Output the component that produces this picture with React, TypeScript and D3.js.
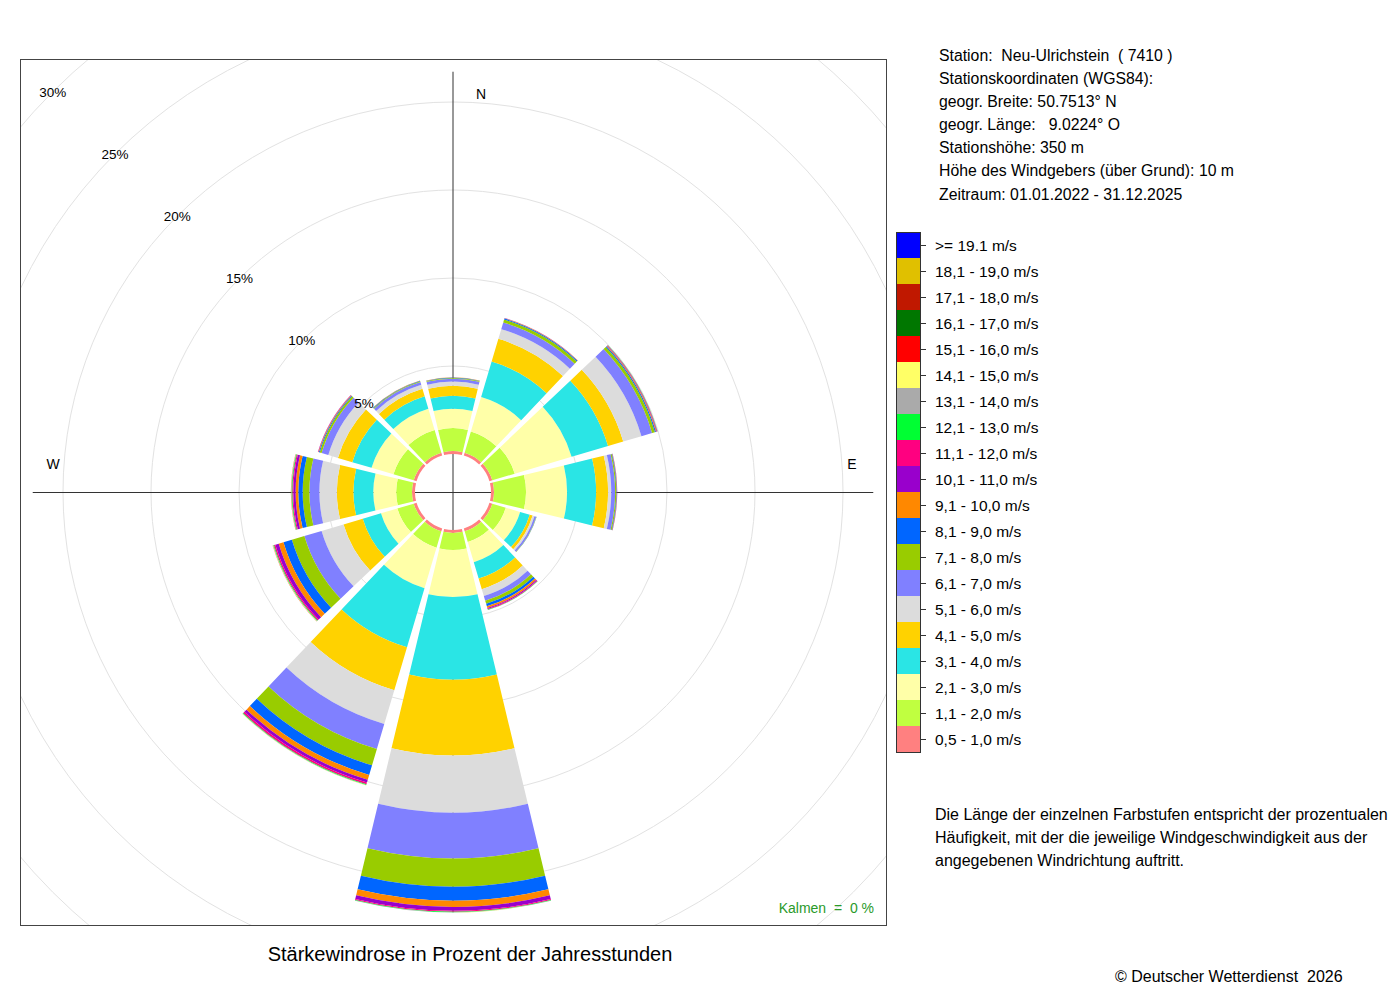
import { useEffect, useRef } from 'react';
import * as d3 from 'd3';

// wind directions (degrees, clockwise from north)
const directions = [0, 30, 60, 90, 120, 150, 180, 210, 240, 270, 300, 330];

const speedLabels = [
  '0,5 - 1,0 m/s', '1,1 - 2,0 m/s', '2,1 - 3,0 m/s', '3,1 - 4,0 m/s', '4,1 - 5,0 m/s',
  '5,1 - 6,0 m/s', '6,1 - 7,0 m/s', '7,1 - 8,0 m/s', '8,1 - 9,0 m/s', '9,1 - 10,0 m/s',
  '10,1 - 11,0 m/s', '11,1 - 12,0 m/s', '12,1 - 13,0 m/s', '13,1 - 14,0 m/s', '14,1 - 15,0 m/s',
  '15,1 - 16,0 m/s', '16,1 - 17,0 m/s', '17,1 - 18,0 m/s', '18,1 - 19,0 m/s', '>= 19.1 m/s',
];

const speedColors = [
  '#ff8080', '#c0ff40', '#ffffa8', '#2ae5e5', '#ffd200',
  '#dcdcdc', '#8080ff', '#99cc00', '#0066ff', '#ff8800',
  '#9900cc', '#ff0080', '#00ff33', '#aaaaaa', '#ffff66',
  '#ff0000', '#007700', '#c01800', '#e0c000', '#0000ff',
];

// percent of hours per speed class, one array per direction
const freq000 = [0.17, 1.3, 1.1, 0.74, 0.57, 0.23, 0.17, 0.04, 0.02, 0.02, 0, 0, 0, 0, 0, 0, 0, 0, 0, 0];
const freq030 = [0.17, 1.25, 2.05, 2.1, 1.35, 0.57, 0.4, 0.17, 0.06, 0.02, 0.01, 0, 0, 0, 0, 0, 0, 0, 0, 0];
const freq060 = [0.17, 1.33, 3.37, 2.16, 0.9, 1.08, 0.63, 0.17, 0.06, 0.04, 0.03, 0.02, 0.01, 0, 0, 0, 0, 0, 0, 0];
const freq090 = [0.17, 1.82, 2.33, 1.65, 0.68, 0.18, 0.22, 0.06, 0.03, 0.02, 0.01, 0, 0, 0, 0, 0, 0, 0, 0, 0];
const freq120 = [0.17, 0.8, 0.85, 0.57, 0.17, 0.11, 0.1, 0.02, 0.01, 0, 0, 0, 0, 0, 0, 0, 0, 0, 0, 0];
const freq150 = [0.17, 0.63, 1.2, 0.97, 0.63, 0.4, 0.28, 0.19, 0.14, 0.1, 0.06, 0.04, 0.02, 0.01, 0, 0, 0, 0, 0, 0];
const freq180 = [0.17, 0.97, 2.67, 4.7, 4.3, 3.25, 2.6, 1.6, 0.8, 0.35, 0.22, 0.05, 0.03, 0.01, 0.01, 0, 0, 0, 0, 0];
const freq210 = [0.17, 0.97, 2.4, 3.5, 2.55, 2.0, 1.48, 0.97, 0.57, 0.28, 0.17, 0.1, 0.04, 0.02, 0.01, 0, 0, 0, 0, 0];
const freq240 = [0.17, 0.97, 0.97, 1.08, 1.14, 1.3, 1.02, 0.74, 0.5, 0.28, 0.2, 0.08, 0.04, 0.02, 0.01, 0.01, 0, 0, 0, 0];
const freq270 = [0.17, 0.9, 1.3, 1.13, 0.94, 0.99, 0.57, 0.38, 0.25, 0.15, 0.13, 0.06, 0.04, 0.02, 0.01, 0.01, 0, 0, 0, 0];
const freq300 = [0.17, 1.2, 1.3, 1.14, 0.85, 0.57, 0.4, 0.11, 0.05, 0.03, 0.02, 0.01, 0, 0, 0, 0, 0, 0, 0, 0];
const freq330 = [0.17, 1.35, 1.25, 0.74, 0.45, 0.23, 0.17, 0.05, 0.03, 0.01, 0, 0, 0, 0, 0, 0, 0, 0, 0, 0];
const rose = [freq000, freq030, freq060, freq090, freq120, freq150, freq180, freq210, freq240, freq270, freq300, freq330];

const pctTicks = [5, 10, 15, 20, 25, 30];

const stationInfo = [
  'Station:  Neu-Ulrichstein  ( 7410 )',
  'Stationskoordinaten (WGS84):',
  'geogr. Breite: 50.7513° N',
  'geogr. Länge:   9.0224° O',
  'Stationshöhe: 350 m',
  'Höhe des Windgebers (über Grund): 10 m',
  'Zeitraum: 01.01.2022 - 31.12.2025',
];

const noteLines = [
  'Die Länge der einzelnen Farbstufen entspricht der prozentualen',
  'Häufigkeit, mit der die jeweilige Windgeschwindigkeit aus der',
  'angegebenen Windrichtung auftritt.',
];

const FONT = '"Liberation Sans", Arial, Helvetica, sans-serif';

export default function App() {
  const svgRef = useRef<SVGSVGElement>(null);

  useEffect(() => {
    if (!svgRef.current) return;
    const svg = d3.select(svgRef.current);
    svg.selectAll('*').remove();

    const box = { x: 20, y: 59, w: 866, h: 866 };
    const cx = box.x + box.w / 2;
    const cy = box.y + box.h / 2;
    const halfW = 13.5;   // half sector width in degrees
    const rad = Math.PI / 180;

    const r = d3.scaleLinear().domain([0, 30]).range([38, 566]);

    svg.append('defs').append('clipPath').attr('id', 'plotclip')
      .append('rect').attr('x', box.x).attr('y', box.y).attr('width', box.w).attr('height', box.h);

    const plot = svg.append('g').attr('clip-path', 'url(#plotclip)');

    // grid circles
    plot.selectAll('.grid')
      .data(pctTicks)
      .enter().append('circle')
      .attr('cx', cx).attr('cy', cy)
      .attr('r', d => r(d))
      .attr('fill', 'none').attr('stroke', '#e2e2e2').attr('stroke-width', 1);

    // axis cross
    const axLen = r(21.72);
    plot.append('line')
      .attr('x1', cx - axLen).attr('x2', cx + axLen)
      .attr('y1', cy + 0.5).attr('y2', cy + 0.5)
      .attr('stroke', '#333').attr('stroke-width', 1);
    plot.append('line')
      .attr('x1', cx).attr('x2', cx)
      .attr('y1', cy - axLen).attr('y2', cy + axLen)
      .attr('stroke', '#333').attr('stroke-width', 1);

    // stacked sectors
    const arc = d3.arc<{ r0: number; r1: number; a: number }>()
      .innerRadius(d => d.r0)
      .outerRadius(d => d.r1)
      .startAngle(d => (d.a - halfW) * rad)
      .endAngle(d => (d.a + halfW) * rad);

    const g = plot.append('g').attr('transform', `translate(${cx},${cy})`);

    directions.forEach((dir, i) => {
      const vals = rose[i];
      const cum = Array.from(d3.cumsum(vals));
      const segs = vals.map((v, k) => ({
        r0: r(cum[k] - v), r1: r(cum[k]), a: dir, k, v,
      })).filter(s => s.v > 0);
      g.selectAll(`.seg${dir}`)
        .data(segs)
        .enter().append('path')
        .attr('d', d => arc(d) as string)
        .attr('fill', d => speedColors[d.k]);
    });

    // percent labels along NW diagonal
    svg.selectAll('.pct')
      .data(pctTicks)
      .enter().append('text')
      .attr('x', d => cx - r(d) * Math.SQRT1_2)
      .attr('y', d => cy - r(d) * Math.SQRT1_2)
      .attr('dy', '0.35em')
      .attr('text-anchor', 'middle')
      .attr('font-family', FONT).attr('font-size', 13.5)
      .attr('fill', '#000')
      .text(d => `${d}%`);

    const dirText = (x: number, y: number, t: string) =>
      svg.append('text').attr('x', x).attr('y', y).attr('dy', '0.35em')
        .attr('text-anchor', 'middle')
        .attr('font-family', FONT).attr('font-size', 14).text(t);
    dirText(cx + 28, box.y + 35, 'N');
    dirText(box.x + box.w - 34, cy - 28, 'E');
    dirText(box.x + 33, cy - 28, 'W');

    // frame
    svg.append('rect')
      .attr('x', box.x + 0.5).attr('y', box.y + 0.5)
      .attr('width', box.w).attr('height', box.h)
      .attr('fill', 'none').attr('stroke', '#444').attr('stroke-width', 1);

    svg.append('text')
      .attr('x', box.x + box.w - 12).attr('y', box.y + box.h - 17)
      .attr('dy', '0.35em').attr('text-anchor', 'end')
      .attr('font-family', FONT).attr('font-size', 14)
      .attr('fill', '#2a9a2a')
      .style('white-space', 'pre')
      .text('Kalmen  =  0 %');

    // title + footer
    svg.append('text')
      .attr('x', 470).attr('y', 954).attr('dy', '0.35em')
      .attr('text-anchor', 'middle')
      .attr('font-family', FONT).attr('font-size', 20)
      .text('Stärkewindrose in Prozent der Jahresstunden');

    svg.append('text')
      .attr('x', 1115).attr('y', 976).attr('dy', '0.35em')
      .attr('font-family', FONT).attr('font-size', 16)
      .style('white-space', 'pre')
      .text('© Deutscher Wetterdienst  2026');

    // station info
    svg.selectAll('.info')
      .data(stationInfo)
      .enter().append('text')
      .attr('x', 939)
      .attr('y', (_, i) => 55 + i * 23.17)
      .attr('dy', '0.35em')
      .attr('font-family', FONT).attr('font-size', 15.8)
      .style('white-space', 'pre')
      .text(d => d);

    // legend
    const leg = d3.scaleBand<string>()
      .domain(speedLabels.slice().reverse())
      .range([232, 752]);

    svg.selectAll('.legbox')
      .data(speedLabels)
      .enter().append('rect')
      .attr('x', 896).attr('y', d => leg(d)!)
      .attr('width', 24).attr('height', leg.bandwidth())
      .attr('fill', (_, i) => speedColors[i]);

    svg.append('rect')
      .attr('x', 896.5).attr('y', 232.5).attr('width', 24).attr('height', 520)
      .attr('fill', 'none').attr('stroke', '#333').attr('stroke-width', 1);

    svg.selectAll('.legtick')
      .data(speedLabels)
      .enter().append('line')
      .attr('x1', 920).attr('x2', 926)
      .attr('y1', d => leg(d)! + leg.bandwidth() / 2 + 0.5)
      .attr('y2', d => leg(d)! + leg.bandwidth() / 2 + 0.5)
      .attr('stroke', '#333').attr('stroke-width', 1);

    svg.selectAll('.leglabel')
      .data(speedLabels)
      .enter().append('text')
      .attr('x', 935)
      .attr('y', d => leg(d)! + leg.bandwidth() / 2 + 1)
      .attr('dy', '0.35em')
      .attr('font-family', FONT).attr('font-size', 15.5)
      .text(d => d);

    // explanatory note
    svg.selectAll('.note')
      .data(noteLines)
      .enter().append('text')
      .attr('x', 935)
      .attr('y', (_, i) => 814 + i * 23)
      .attr('dy', '0.35em')
      .attr('font-family', FONT).attr('font-size', 16)
      .text(d => d);
  }, []);

  return (
    <div style={{ position: 'absolute', left: 0, top: 0, background: '#fff' }}>
      <svg ref={svgRef} width={1400} height={1000} style={{ display: 'block' }} />
    </div>
  );
}
